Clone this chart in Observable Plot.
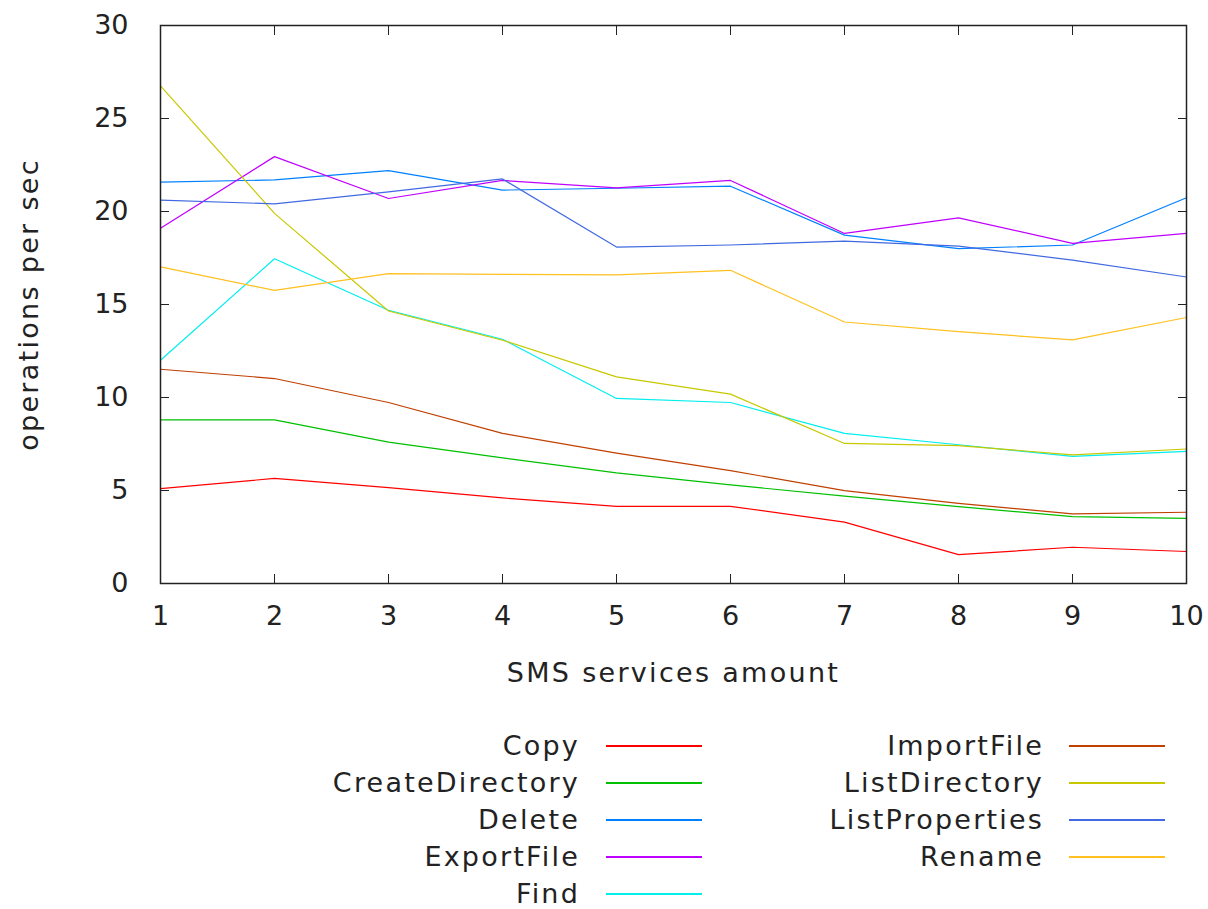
<!DOCTYPE html>
<html><head><meta charset="utf-8">
<script src="https://cdn.jsdelivr.net/npm/d3@7"></script>
<script src="https://cdn.jsdelivr.net/npm/@observablehq/plot@0.6"></script>
<style>
body{margin:0;background:#fff;}
#wrap{position:relative;width:1208px;height:909px;font-family:"DejaVu Sans",sans-serif;color:#222;overflow:hidden;}
.lgt{position:absolute;height:26px;line-height:26px;font-size:27px;text-align:right;white-space:nowrap;letter-spacing:2.2px;}
.lgl{position:absolute;height:1.5px;}
g[aria-label="x-axis label"] text, g[aria-label="y-axis label"] text {letter-spacing:2.3px;}
</style></head><body><div id="wrap"></div>
<script>
const amounts = [1, 2, 3, 4, 5, 6, 7, 8, 9, 10];
const seriesNames = ["Copy", "CreateDirectory", "Delete", "ExportFile", "Find", "ImportFile", "ListDirectory", "ListProperties", "Rename"];
const copyOps = [5.1, 5.65, 5.15, 4.6, 4.15, 4.15, 3.3, 1.55, 1.95, 1.72];
const createDirectoryOps = [8.8, 8.8, 7.6, 6.75, 5.95, 5.3, 4.7, 4.13, 3.6, 3.5];
const deleteOps = [21.58, 21.7, 22.2, 21.15, 21.25, 21.36, 18.73, 18.0, 18.2, 20.74];
const exportFileOps = [19.1, 22.95, 20.7, 21.67, 21.27, 21.67, 18.82, 19.66, 18.29, 18.82];
const findOps = [12.0, 17.46, 14.69, 13.13, 9.95, 9.73, 8.07, 7.46, 6.83, 7.1];
const importFileOps = [11.52, 11.02, 9.73, 8.07, 7.01, 6.07, 4.99, 4.31, 3.74, 3.83];
const listDirectoryOps = [26.75, 19.9, 14.65, 13.08, 11.11, 10.18, 7.53, 7.41, 6.92, 7.23];
const listPropertiesOps = [20.61, 20.41, 21.06, 21.75, 18.09, 18.2, 18.41, 18.14, 17.39, 16.48];
const renameOps = [17.02, 15.76, 16.66, 16.62, 16.59, 16.84, 14.06, 13.54, 13.1, 14.3];
const seriesColors = ["#ff0000", "#00c000", "#0080ff", "#c000ff", "#00eeee", "#c04000", "#c8c800", "#4169e1", "#ffc020"];
const xTicks = [1, 2, 3, 4, 5, 6, 7, 8, 9, 10];
const yTicks = [0, 5, 10, 15, 20, 25, 30];

const seriesValues = [copyOps, createDirectoryOps, deleteOps, exportFileOps, findOps, importFileOps, listDirectoryOps, listPropertiesOps, renameOps];
const rows = seriesNames.flatMap((name, i) => seriesValues[i].map((v, j) => ({name, x: amounts[j], y: v})));
const noText = () => "";

const chart = Plot.plot({
  width: 1208, height: 700,
  marginLeft: 160, marginTop: 25, marginRight: 22, marginBottom: 117,
  style: {fontFamily: "DejaVu Sans", fontSize: "27px", color: "#222", background: "#fff"},
  x: {domain: [1, 10]},
  y: {domain: [0, 30]},
  color: {domain: seriesNames, range: seriesColors},
  marks: [
    Plot.lineY(rows, {x: "x", y: "y", z: "name", stroke: "name", strokeWidth: 1.2}),
    Plot.frame({stroke: "#222", strokeWidth: 1.5}),
    // labels
    Plot.axisX(xTicks, {anchor: "bottom", tickSize: 0, tickPadding: 22, tickFormat: d => String(d), label: "SMS services amount", labelAnchor: "center", labelArrow: "none", labelOffset: 98}),
    Plot.axisY(yTicks, {anchor: "left", tickSize: 0, tickPadding: 32, tickFormat: d => String(d), label: "operations per sec", labelAnchor: "center", labelArrow: "none", labelOffset: 142}),
    // inward ticks on all four sides
    Plot.axisX(xTicks, {anchor: "bottom", tickSize: 9, dy: -9, tickFormat: noText, label: null}),
    Plot.axisX(xTicks, {anchor: "top", tickSize: 9, dy: 9, tickFormat: noText, label: null}),
    Plot.axisY(yTicks, {anchor: "left", tickSize: 9, dx: 9, tickFormat: noText, label: null}),
    Plot.axisY(yTicks, {anchor: "right", tickSize: 9, dx: -9, tickFormat: noText, label: null})
  ]
});
const wrap = document.getElementById("wrap");
wrap.appendChild(chart);

seriesNames.forEach((name, i) => {
  const col = i < 5 ? 0 : 1;
  const row = i < 5 ? i : i - 5;
  const cy = 746 + 37 * row;
  const textRight = col === 0 ? 578 : 1042;
  const lineX0 = col === 0 ? 606 : 1069;
  const t = document.createElement("div");
  t.className = "lgt";
  t.textContent = name;
  t.style.right = (1208 - textRight - 2) + "px";
  t.style.top = (cy - 13) + "px";
  wrap.appendChild(t);
  const l = document.createElement("div");
  l.className = "lgl";
  l.style.left = lineX0 + "px";
  l.style.width = "96px";
  l.style.top = (cy - 0.75) + "px";
  l.style.background = seriesColors[i];
  wrap.appendChild(l);
});
</script></body></html>
